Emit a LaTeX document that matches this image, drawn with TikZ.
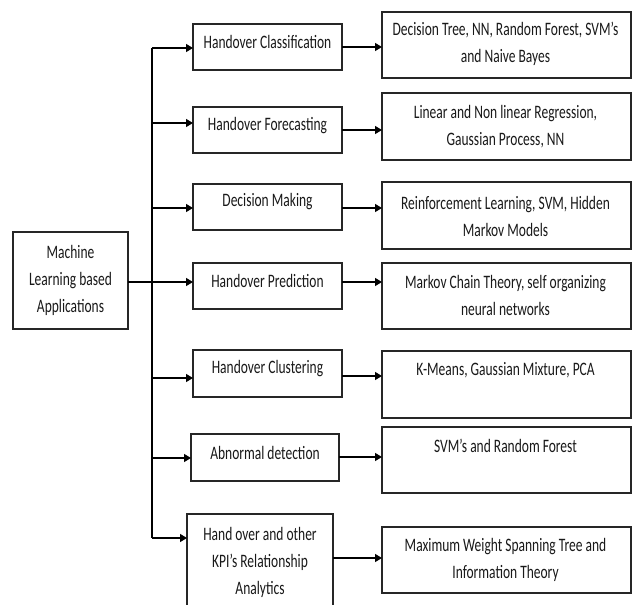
\documentclass[tikz,border=0pt]{standalone}
\usepackage{fontspec}
\setmainfont{Carlito}[FakeStretch=0.71]
\usetikzlibrary{arrows.meta}

\tikzset{
  box/.style={draw=black!85, line width=1.3pt, fill=white, inner sep=0pt, outer sep=0pt},
  txt/.style={font=\fontsize{19}{27}\selectfont, text=black!90, align=center, inner sep=0pt},
  arr/.style={draw=black, line width=1.2pt, -{Triangle[length=7pt,width=8pt]}},
  wire/.style={draw=black, line width=1.2pt}
}

\begin{document}
\begin{tikzpicture}[x=1pt, y=-1pt]
  \useasboundingbox (0,0) rectangle (638,605);
  \fill[white] (0,0) rectangle (638,605);
  \clip (0,0) rectangle (638,605);

  % source box
  \node[box, minimum width=115pt, minimum height=97pt] (src) at (70.5,280.5) {};
  \node[txt] (srct) at (70.5,280) {Machine\\Learning based\\Applications};

  % application boxes
  \node[box, minimum width=149pt, minimum height=46pt] (m1) at (267.5,47) {};
  \node[box, minimum width=149pt, minimum height=46pt] (m2) at (267.5,130) {};
  \node[box, minimum width=149pt, minimum height=46pt] (m3) at (267.5,207) {};
  \node[box, minimum width=149pt, minimum height=46pt] (m4) at (267.5,286) {};
  \node[box, minimum width=149pt, minimum height=47pt] (m5) at (267.5,373.5) {};
  \node[box, minimum width=148pt, minimum height=47pt] (m6) at (265,457.5) {};
  \node[box, minimum width=146pt, minimum height=98pt] (m7) at (260,563) {};

  \node[txt] (m1t) at (267.5,42) {Handover Classification};
  \node[txt] (m2t) at (267.5,126) {Handover Forecasting};
  \node[txt] (m3t) at (267.5,202) {Decision Making};
  \node[txt] (m4t) at (267.5,281) {Handover Prediction};
  \node[txt] (m5t) at (267.5,369) {Handover Clustering};
  \node[txt] (m6t) at (265,453) {Abnormal detection};
  \node[txt] (m7t) at (260,562) {Hand over and other\\KPI’s Relationship\\Analytics};

  % method boxes
  \node[box, minimum width=249pt, minimum height=66pt] (r1) at (506.5,45) {};
  \node[box, minimum width=249pt, minimum height=67pt] (r2) at (506.5,126.5) {};
  \node[box, minimum width=249pt, minimum height=67pt] (r3) at (506.5,215.5) {};
  \node[box, minimum width=249pt, minimum height=66pt] (r4) at (506.5,296) {};
  \node[box, minimum width=249pt, minimum height=67pt] (r5) at (506.5,384.5) {};
  \node[box, minimum width=249pt, minimum height=66pt] (r6) at (506.5,460) {};
  \node[box, minimum width=249pt, minimum height=66pt] (r7) at (506.5,560) {};

  \node[txt] (r1t) at (505.5,44) {Decision Tree, NN, Random Forest, SVM’s\\and Naive Bayes};
  \node[txt] (r2t) at (505.5,126.5) {Linear and Non linear Regression,\\Gaussian Process, NN};
  \node[txt] (r3t) at (505.5,216) {Reinforcement Learning, SVM, Hidden\\Markov Models};
  \node[txt] (r4t) at (505.5,295.5) {Markov Chain Theory, self organizing\\neural networks};
  \node[txt] (r5t) at (505.5,370) {K-Means, Gaussian Mixture, PCA};
  \node[txt] (r6t) at (505.5,446) {SVM’s and Random Forest};
  \node[txt] (r7t) at (505.5,560) {Maximum Weight Spanning Tree and\\Information Theory};

  % trunk branch points
  \coordinate (t1) at (152,48);
  \coordinate (t2) at (152,123);
  \coordinate (t3) at (152,208);
  \coordinate (t4) at (152,282);
  \coordinate (t5) at (152,378);
  \coordinate (t6) at (152,458);
  \coordinate (t7) at (152,538);

  % trunk and feed from the source box
  \draw[wire] (t1) -- (t7);
  \draw[wire] (src.east |- t4) -- (t4);

  % branches into the application boxes
  \draw[arr] (t1) -- (t1 -| m1.west);
  \draw[arr] (t2) -- (t2 -| m2.west);
  \draw[arr] (t3) -- (t3 -| m3.west);
  \draw[arr] (t4) -- (t4 -| m4.west);
  \draw[arr] (t5) -- (t5 -| m5.west);
  \draw[arr] (t6) -- (t6 -| m6.west);
  \draw[arr] (t7) -- (t7 -| m7.west);

  % application to method arrows
  \draw[arr] ([yshift=0pt]m1.east) -- ([yshift=0pt]m1.east -| r1.west);
  \draw[arr] ([yshift=0pt]m2.east) -- ([yshift=0pt]m2.east -| r2.west);
  \draw[arr] ([yshift=-1pt]m3.east) -- ([yshift=-1pt]m3.east -| r3.west);
  \draw[arr] ([yshift=4pt]m4.east) -- ([yshift=4pt]m4.east -| r4.west);
  \draw[arr] ([yshift=-2.5pt]m5.east) -- ([yshift=-2.5pt]m5.east -| r5.west);
  \draw[arr] ([yshift=0.5pt]m6.east) -- ([yshift=0.5pt]m6.east -| r6.west);
  \draw[arr] ([yshift=5pt]m7.east) -- ([yshift=5pt]m7.east -| r7.west);
\end{tikzpicture}
\end{document}
